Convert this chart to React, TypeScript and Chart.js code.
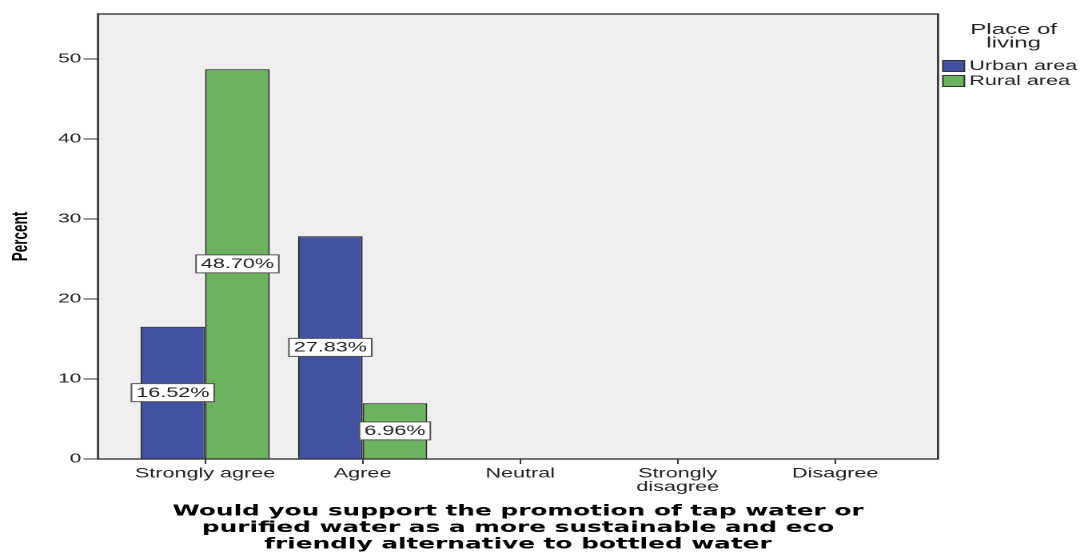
import React, { useEffect, useRef } from 'react';
import { Chart, registerables } from 'chart.js';

Chart.register(...registerables);

// ---------- data ----------
const categories = ['Strongly agree', 'Agree', 'Neutral', 'Strongly disagree', 'Disagree'];
const tickLabels: string[][] = [['Strongly agree'], ['Agree'], ['Neutral'], ['Strongly', 'disagree'], ['Disagree']];
const urbanArea = [16.52, 27.83, 0, 0, 0];
const ruralArea = [48.7, 6.96, 0, 0, 0];
const seriesNames = ['Urban area', 'Rural area'];
const seriesColors = ['#4152a2', '#6cb25f'];
const legendTitle = ['Place of', 'living'];
const xTitle = [
  'Would you support the promotion of tap water or',
  'purified water as a more sustainable and eco',
  'friendly alternative to bottled water',
];
const yTitle = 'Percent';
const yMax = 55.6;
const yStep = 10;

// ---------- layout (canvas drawn narrow, then stretched horizontally like the source) ----------
const W = 678;
const H = 554;
const STRETCH = 1084 / W;
const SANS = "'Liberation Sans', Arial, Helvetica, sans-serif";

const chartPlugin = {
  id: 'spssLook',
  beforeDraw(chart: any) {
    const { ctx, chartArea: a } = chart;
    ctx.save();
    ctx.fillStyle = '#efefef';
    ctx.fillRect(a.left, a.top, a.right - a.left, a.bottom - a.top);
    ctx.restore();
  },
  afterDatasetsDraw(chart: any) {
    const { ctx } = chart;
    ctx.save();
    ctx.font = `13.5px ${SANS}`;
    ctx.textAlign = 'center';
    ctx.textBaseline = 'middle';
    chart.data.datasets.forEach((ds: any, i: number) => {
      const meta = chart.getDatasetMeta(i);
      meta.data.forEach((el: any, j: number) => {
        const v = ds.data[j].y;
        if (!v) return;
        const { x, y, base } = el.getProps(['x', 'y', 'base'], true);
        const cy = (y + base) / 2;
        const text = v.toFixed(2) + '%';
        const w = ctx.measureText(text).width + 6;
        const h = 18;
        ctx.fillStyle = '#ffffff';
        ctx.fillRect(x - w / 2, cy - h / 2, w, h);
        ctx.strokeStyle = '#555555';
        ctx.lineWidth = 1;
        ctx.strokeRect(x - w / 2, cy - h / 2, w, h);
        ctx.fillStyle = '#222222';
        ctx.fillText(text, x, cy + 0.5);
      });
    });
    ctx.restore();
  },
  afterDraw(chart: any) {
    const { ctx, chartArea: a } = chart;
    ctx.save();
    // frame
    ctx.strokeStyle = '#3a3a3a';
    ctx.lineWidth = 1.4;
    ctx.strokeRect(a.left, a.top, a.right - a.left, a.bottom - a.top);
    // legend
    const lx = a.right + 3;
    ctx.fillStyle = '#222222';
    ctx.textAlign = 'center';
    ctx.textBaseline = 'middle';
    ctx.font = `15px ${SANS}`;
    legendTitle.forEach((t, k) => ctx.fillText(t, 634, 30 + k * 13.5));
    ctx.textAlign = 'left';
    ctx.font = `13.5px ${SANS}`;
    seriesNames.forEach((name, k) => {
      const cy = 66 + k * 15;
      ctx.fillStyle = seriesColors[k];
      ctx.fillRect(lx, cy - 5.5, 13.5, 11);
      ctx.strokeStyle = '#333333';
      ctx.lineWidth = 1;
      ctx.strokeRect(lx, cy - 5.5, 13.5, 11);
      ctx.fillStyle = '#222222';
      ctx.fillText(name, lx + 16.5, cy + 0.5);
    });
    ctx.restore();
  },
};

export default function App() {
  const ref = useRef<HTMLCanvasElement | null>(null);

  useEffect(() => {
    if (!ref.current) return;
    const chart = new Chart(ref.current, {
      type: 'bar',
      data: {
        datasets: [urbanArea, ruralArea].map((vals, i) => ({
          label: seriesNames[i],
          data: vals.map((v, j) => ({ x: j, y: v })),
          backgroundColor: seriesColors[i],
          borderColor: '#222222',
          borderWidth: (c: any) => (c.raw && c.raw.y > 0 ? 1 : 0),
          categoryPercentage: 0.82,
          barPercentage: 1,
        })),
      },
      options: {
        animation: false,
        responsive: false,
        devicePixelRatio: 2,
        layout: { padding: { top: 14, right: W - 586.7, left: 0, bottom: 0 } },
        plugins: { legend: { display: false }, tooltip: { enabled: false } },
        scales: {
          x: {
            type: 'linear',
            offset: false,
            min: -0.68,
            max: 4.653,
            afterBuildTicks: (s: any) => {
              s.ticks = categories.map((_, i) => ({ value: i }));
            },
            afterFit: (s: any) => {
              s.height = 95;
            },
            ticks: {
              autoSkip: false,
              maxRotation: 0,
              padding: 3,
              color: '#222222',
              font: { family: SANS, size: 13.5, lineHeight: 1.0 },
              callback: (v: any) => tickLabels[v as number] ?? '',
            },
            grid: { offset: false, drawOnChartArea: false, drawTicks: true, tickLength: 5, color: '#333333', lineWidth: 1 },
            border: { display: false },
            title: {
              display: true,
              text: xTitle,
              color: '#000000',
              font: { family: "'DejaVu Sans', Verdana, sans-serif", size: 15.5, weight: 'bold', lineHeight: 1.07 },
              padding: { top: 0, bottom: 1 },
            },
          },
          y: {
            min: 0,
            max: yMax,
            afterFit: (s: any) => {
              s.width = 61.3;
            },
            ticks: {
              stepSize: yStep,
              includeBounds: false,
              padding: 1.5,
              color: '#222222',
              font: { family: SANS, size: 13 },
            },
            grid: { drawOnChartArea: false, drawTicks: true, tickLength: 9, color: '#333333', lineWidth: 1 },
            border: { display: false },
            title: {
              display: true,
              text: yTitle,
              color: '#000000',
              font: { family: "'Liberation Sans Narrow', 'Arial Narrow', 'Liberation Sans', Arial, sans-serif", size: 13.5, weight: 'bold', lineHeight: 1.2 },
              padding: { top: 5, bottom: 0 },
            },
          },
        },
      },
      plugins: [chartPlugin],
    } as any);
    return () => chart.destroy();
  }, []);

  return (
    <div style={{ position: 'absolute', left: 0, top: 0, width: 1084, height: H, overflow: 'hidden', background: '#ffffff' }}>
      <canvas
        ref={ref}
        width={W}
        height={H}
        style={{ display: 'block', transform: `scaleX(${STRETCH})`, transformOrigin: '0 0' }}
      />
    </div>
  );
}
